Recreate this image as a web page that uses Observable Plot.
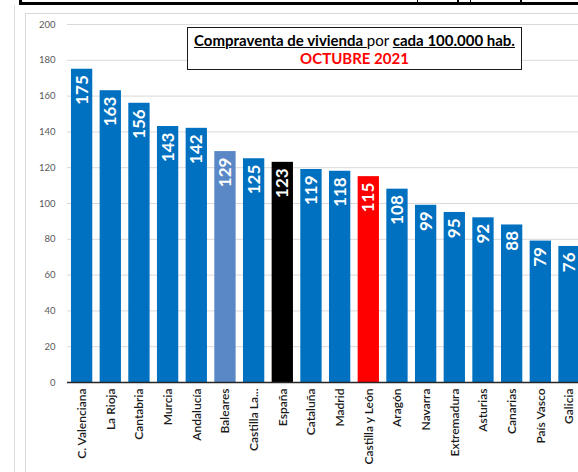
<!DOCTYPE html>
<html>
<head>
<meta charset="utf-8">
<script src="https://cdn.jsdelivr.net/npm/d3@7"></script>
<script src="https://cdn.jsdelivr.net/npm/@observablehq/plot@0.6"></script>
<style>
  html, body { margin: 0; padding: 0; background: #fff; }
  #wrap { position: relative; width: 578px; height: 472px; overflow: hidden; background: #fff; font-family: Lato, "Open Sans", sans-serif; }
  #chart { position: absolute; left: 0; top: 0; }
  .deco { position: absolute; }
  #titlebox { position: absolute; left: 187px; top: 27px; width: 333px; height: 41px; border: 1px solid #1a1a1a; background: #fff; text-align: center; }
  #t1 { position: absolute; left: 0; right: 0; top: 3px; font-size: 15px; line-height: 18px; color: #000; white-space: nowrap; }
  #t1 b u { text-decoration-thickness: 1px; }
  #t2 { position: absolute; left: 0; right: 0; top: 21px; font-size: 15px; line-height: 18px; color: #ff0000; font-weight: bold; }
</style>
</head>
<body>
<div id="wrap">
  <div class="deco" style="left:14px;top:5px;width:1px;height:480px;background:#dcdcdc"></div>
  <div class="deco" style="left:25px;top:13px;width:600px;height:480px;border-left:1px solid #d9d9d9;border-top:1px solid #d9d9d9"></div>
  <div class="deco" style="left:19px;top:-10px;width:600px;height:12px;border-left:3px solid #000;border-bottom:3px solid #000"></div>
  <div class="deco" style="left:417px;top:0px;width:1px;height:3px;background:#000"></div>
  <div class="deco" style="left:457px;top:0px;width:2px;height:4px;background:#000"></div>
  <div class="deco" style="left:470px;top:0px;width:1px;height:3px;background:#000"></div>
  <div class="deco" style="left:520px;top:0px;width:2px;height:3px;background:#000"></div>
  <div id="chart"></div>
  <div id="titlebox">
    <div id="t1"><b><u>Compraventa de vivienda </u></b>por <b><u>cada 100.000 hab.</u></b></div>
    <div id="t2">OCTUBRE 2021</div>
  </div>
</div>
<script>
const regions = ["C. Valenciana", "La Rioja", "Cantabria", "Murcia", "Andalucía", "Baleares", "Castilla La...", "España", "Cataluña", "Madrid", "Castilla y León", "Aragón", "Navarra", "Extremadura", "Asturias", "Canarias", "País Vasco", "Galicia"];
const values = [175, 163, 156, 143, 142, 129, 125, 123, 119, 118, 115, 108, 99, 95, 92, 88, 79, 76];
const yTicks = [0, 20, 40, 60, 80, 100, 120, 140, 160, 180, 200];
const nationalRegion = "España";
const featuredRegion = "Castilla y León";
const islandRegion = "Baleares";

const data = regions.map((region, i) => ({region, value: values[i]}));
const fillOf = d => d.region === nationalRegion ? "#000000"
  : d.region === featuredRegion ? "#ff0000"
  : d.region === islandRegion ? "#5a87c6"
  : "#0070c0";

const chart = Plot.plot({
  width: 578,
  height: 472,
  marginTop: 24,
  marginBottom: 90,
  marginLeft: 67,
  marginRight: 0,
  style: {fontFamily: "Lato, 'Open Sans', sans-serif", background: "transparent", overflow: "hidden"},
  x: {domain: regions, range: [63.6, 587], padding: 0.257, round: false, axis: null},
  y: {domain: [0, 200], axis: null},
  marks: [
    Plot.gridY(yTicks, {stroke: "#d9d9d9", strokeOpacity: 1, strokeWidth: 1}),
    Plot.axisY(yTicks, {tickSize: 0, tickPadding: 12, fontSize: 9.5, fill: "#595959", label: null}),
    Plot.barY(data, {x: "region", y: "value", fill: fillOf}),
    Plot.ruleY([0], {stroke: "#262626", strokeWidth: 1.5}),
    Plot.text(data, {x: "region", y: "value", text: d => String(d.value), rotate: -90, textAnchor: "end", dy: 6, fill: "#ffffff", fontWeight: "bold", fontSize: 17}),
    Plot.axisX({tickSize: 0, tickPadding: 6, tickRotate: -90, fontSize: 12, fontWeight: 600, fill: "#1a1a1a", label: null})
  ]
});
document.getElementById("chart").appendChild(chart);
</script>
</body>
</html>
